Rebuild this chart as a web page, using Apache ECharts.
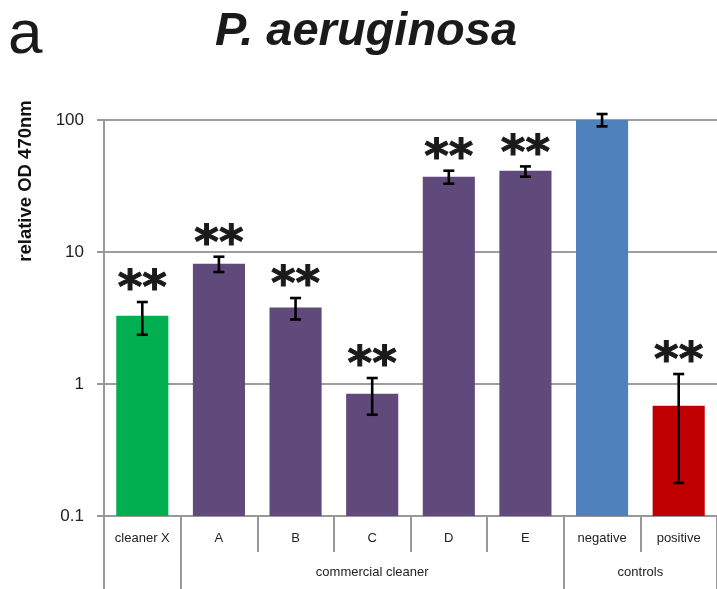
<!DOCTYPE html>
<html>
<head>
<meta charset="utf-8">
<script src="https://cdn.jsdelivr.net/npm/echarts@6/dist/echarts.min.js"></script>
<style>
html,body{margin:0;padding:0;background:#fff;}
#chart{width:717px;height:589px;}
</style>
</head>
<body>
<div id="chart"></div>
<script>
const categories = ['cleaner X', 'A', 'B', 'C', 'D', 'E', 'negative', 'positive'];
const values = [3.29, 8.15, 3.79, 0.845, 37.2, 41.3, 100, 0.685];
const errLow = [2.36, 7.05, 3.08, 0.585, 32.9, 37.2, 89.5, 0.178];
const errHigh = [4.18, 9.21, 4.48, 1.11, 41.3, 44.5, 111, 1.19];
const significance = ['**', '**', '**', '**', '**', '**', '', '**'];
const barColors = ['#00B050', '#604A7B', '#604A7B', '#604A7B', '#604A7B', '#604A7B', '#4F81BD', '#C00000'];
const yTicks = [0.1, 1, 10, 100];
const groupNames = ['', 'commercial cleaner', 'controls'];
const groupStart = [0, 1, 6];
const groupEnd = [1, 6, 8];

const chart = echarts.init(document.getElementById('chart'));

const groupBounds = [groupStart[0]].concat(groupEnd);
const groupMids = groupStart.map((s, i) => (s + groupEnd[i]) / 2);
const axisMin = yTicks[0];

const option = {
  animation: false,
  backgroundColor: '#ffffff',
  title: [
    {
      text: 'P. aeruginosa',
      left: 361, top: 4, textAlign: 'center',
      textStyle: {fontFamily: 'Liberation Sans', fontSize: 47, fontWeight: 'bold', fontStyle: 'italic', color: '#1a1a1a'}
    },
    {
      text: 'a',
      left: 3, top: 0,
      textStyle: {fontFamily: 'Liberation Sans', fontSize: 62, fontWeight: 'normal', color: '#1a1a1a'}
    }
  ],
  graphic: [{
    type: 'text',
    x: 26, y: 181,
    rotation: Math.PI / 2,
    style: {
      text: 'relative OD 470nm',
      fontFamily: 'Liberation Sans', fontSize: 18.5, fontWeight: 'bold',
      fill: '#111', align: 'center', verticalAlign: 'middle'
    }
  }],
  grid: {left: 104, right: -2, top: 120, bottom: 73, containLabel: false},
  xAxis: [
    {
      type: 'category',
      data: categories,
      position: 'bottom',
      axisLine: {show: true, lineStyle: {color: '#999', width: 2}},
      axisTick: {show: true, interval: 0, length: 36, lineStyle: {color: '#999', width: 2}},
      axisLabel: {interval: 0, margin: 16, fontFamily: 'Liberation Sans', fontSize: 13, color: '#222'},
      splitLine: {show: false}
    },
    {
      type: 'value',
      min: 0, max: categories.length,
      position: 'bottom',
      offset: 0,
      axisLine: {show: false},
      axisTick: {show: true, customValues: groupBounds, length: 75, lineStyle: {color: '#999', width: 2}},
      axisLabel: {
        show: true, customValues: groupMids, margin: 50,
        fontFamily: 'Liberation Sans', fontSize: 13, color: '#222',
        formatter: function (v) {
          const i = groupMids.indexOf(v);
          return i >= 0 ? groupNames[i] : '';
        }
      },
      splitLine: {show: false}
    }
  ],
  yAxis: {
    type: 'log',
    logBase: 10,
    min: yTicks[0], max: yTicks[yTicks.length - 1],
    axisLine: {show: true, lineStyle: {color: '#999', width: 2}},
    axisTick: {show: true, length: 7, lineStyle: {color: '#999', width: 2}},
    axisLabel: {
      margin: 20, fontFamily: 'Liberation Sans', fontSize: 17, color: '#222',
      formatter: function (v) { return String(+(+v).toPrecision(3)); }
    },
    splitLine: {show: true, lineStyle: {color: '#9e9e9e', width: 2}}
  },
  series: [
    {
      type: 'custom',
      xAxisIndex: 0,
      data: categories.map((c, i) => [i, values[i]]),
      z: 2,
      renderItem: function (params, api) {
        const i = api.value(0);
        const top = api.coord([i, api.value(1)]);
        const base = api.coord([i, axisMin]);
        const w = api.size([1, 0])[0] * 0.68;
        return {
          type: 'rect',
          shape: {x: top[0] - w / 2, y: top[1], width: w, height: base[1] - top[1]},
          style: {fill: barColors[i]}
        };
      }
    },
    {
      type: 'custom',
      xAxisIndex: 0,
      data: categories.map((c, i) => [i, errLow[i], errHigh[i]]),
      z: 5,
      renderItem: function (params, api) {
        const i = api.value(0);
        const lo = api.coord([i, api.value(1)]);
        const hi = api.coord([i, api.value(2)]);
        const cap = 5.5;
        const style = {stroke: '#000', lineWidth: 2.6};
        const children = [
          {type: 'line', shape: {x1: lo[0], y1: lo[1], x2: hi[0], y2: hi[1]}, style: style},
          {type: 'line', shape: {x1: lo[0] - cap, y1: lo[1], x2: lo[0] + cap, y2: lo[1]}, style: style},
          {type: 'line', shape: {x1: hi[0] - cap, y1: hi[1], x2: hi[0] + cap, y2: hi[1]}, style: style}
        ];
        const sig = significance[i];
        if (sig) {
          children.push({
            type: 'text',
            x: hi[0], y: hi[1] - 11,
            style: {
              text: sig, fontFamily: 'DejaVu Sans', fontWeight: 'bold', fontSize: 47,
              fill: '#1a1a1a', align: 'center', verticalAlign: 'middle',
              stroke: '#1a1a1a', lineWidth: 1
            }
          });
        }
        return {type: 'group', children: children};
      }
    }
  ]
};
chart.setOption(option);
</script>
</body>
</html>
